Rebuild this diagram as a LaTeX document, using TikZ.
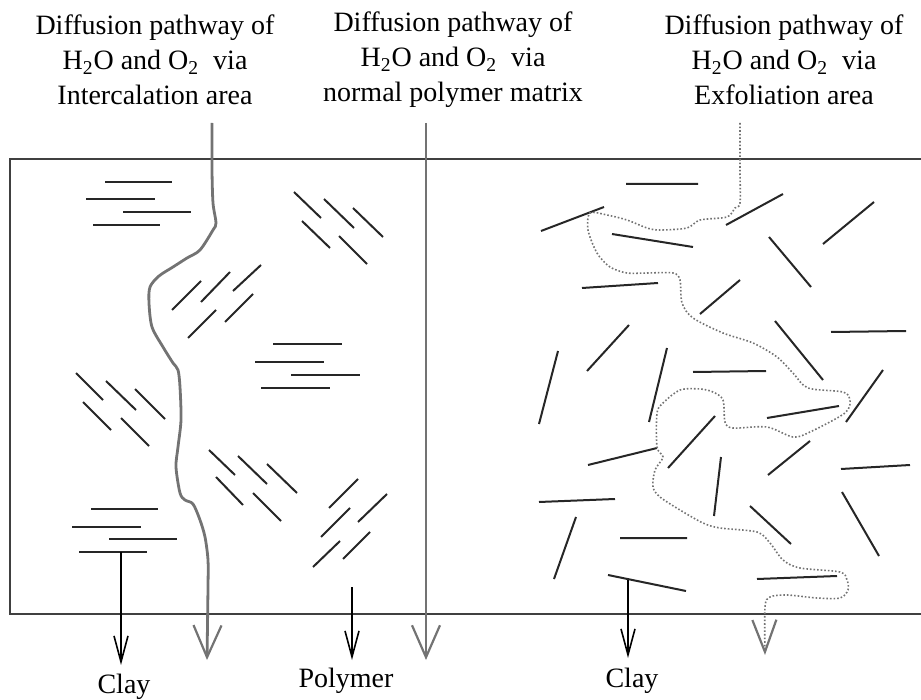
\documentclass[tikz,border=0pt]{standalone}
\usepackage{fontspec}
\setmainfont{Liberation Serif}
\usetikzlibrary{arrows.meta}

\begin{document}
\begin{tikzpicture}[x=0.5pt,y=-0.5pt,
    clay/.style={line width=1pt,black!85},
    wall/.style={line width=0.9pt,black!75},
    route/.style={line width=1.4pt,black!55,line join=round,
      -{Straight Barb[length=16pt,width=14pt,line width=1.1pt]}},
    fineroute/.style={line width=0.8pt,black!55,densely dotted,
      -{Straight Barb[length=16pt,width=12pt,line width=1.1pt]}},
    down/.style={line width=0.6pt,-{Straight Barb[length=13pt,width=7pt,line width=0.8pt]}},
    lab/.style={font=\fontsize{14}{17.5}\selectfont,align=center,inner sep=0pt}]
    \useasboundingbox (0,0) rectangle (921,700);

    % Titles
    \node[lab] (lblInter) at (155,60) {Diffusion pathway of\\
      H\textsubscript{2}O and O\textsubscript{2}\enspace via\\ Intercalation area};
    \node[lab] (lblMatrix) at (453,60) {Diffusion pathway of\\
      H\textsubscript{2}O and O\textsubscript{2}\enspace via\\ normal polymer matrix};
    \node[lab] (lblExfol) at (784,60) {Diffusion pathway of\\
      H\textsubscript{2}O and O\textsubscript{2}\enspace via\\ Exfoliation area};

    % Film
    \draw[wall] (921,159) -- (10,159) -- (10,614) -- (921,614);

    % Stacked clay, left part
    \draw[clay] (105,182) -- (172,182) (86,199) -- (155,199)
                (123,212) -- (191,212) (93,225) -- (160,225);
    \draw[clay] (294,192) -- (321,218) (324,199) -- (354,228) (353,208) -- (383,237)
                (302,221) -- (330,248) (339,236) -- (367,264);
    \draw[clay] (172,310) -- (201,281) (201,302) -- (230,272) (233,291) -- (261,265)
                (188,338) -- (216,310) (225,322) -- (253,294);
    \draw[clay] (273,344) -- (342,344) (255,362) -- (324,362)
                (291,375) -- (360,375) (261,388) -- (330,388);
    \draw[clay] (76,373) -- (103,400) (106,381) -- (136,410) (135,389) -- (165,419)
                (83,402) -- (111,430) (121,418) -- (149,446);
    \draw[clay] (209,450) -- (235,475) (238,456) -- (267,484) (267,464) -- (297,493)
                (216,477) -- (243,505) (253,493) -- (281,521);
    \draw[clay] (329,508) -- (358,479) (358,522) -- (387,494) (321,537) -- (350,508)
                (343,559) -- (370,532) (313,567) -- (340,541);
    \draw[clay] (91,509) -- (158,509) (72,527) -- (141,527)
                (109,539) -- (177,539) (79,552) -- (147,552);

    % Single clay sheets, right part
    \draw[clay] (626,184) -- (698,184) (541,231) -- (604,207) (612,234) -- (693,247)
                (726,225) -- (783,194) (823,244) -- (874,202) (769,237) -- (811,287)
                (582,288) -- (658,283) (700,314) -- (740,280) (831,332) -- (906,331)
                (775,321) -- (823,380) (587,371) -- (629,325) (539,424) -- (558,351)
                (649,422) -- (667,348) (693,372) -- (766,371) (846,422) -- (883,370)
                (767,418) -- (839,406) (668,468) -- (715,416) (768,475) -- (810,441)
                (841,469) -- (910,465) (714,516) -- (721,457) (750,506) -- (791,544)
                (842,492) -- (879,556) (757,579) -- (837,576) (588,465) -- (657,448)
                (539,502) -- (615,499) (554,579) -- (576,517) (620,538) -- (687,538)
                (608,575) -- (686,591);

    % Pathways
    \coordinate (interTop) at (212,123);
    \coordinate (interEnd) at (207,660);
    \coordinate (matrixTop) at (426,123);
    \coordinate (matrixEnd) at (426,660);
    \coordinate (exfolTop) at (740,123);
    \coordinate (exfolEnd) at (765,655);
    \draw[route] plot[smooth,tension=0.5] coordinates {(interTop) (212,170) (213,203)
      (216,223) (213,230) (200,250) (187,258) (173,267) (159,276) (150,287) (149,303)
      (152,327) (163,347) (173,363) (178,370) (180,387) (181,420) (178,447) (176,467)
      (180,493) (185,500) (193,504) (200,520) (205,537) (208,560) (208,587) (interEnd)};
    \draw[route] (matrixTop) -- (matrixEnd);
    \draw[fineroute] plot[smooth,tension=0.5] coordinates {(exfolTop) (740,170)
      (740,203) (735,208) (727,217) (700,220) (687,228) (660,230) (647,228) (627,220)
      (607,215) (590,213) (588,230) (597,253) (610,267) (627,273) (647,273) (673,273)
      (680,280) (682,303) (693,318) (723,333) (753,343) (777,357) (793,373) (808,388)
      (843,392) (850,400) (845,413) (810,432) (793,437) (767,427) (733,428) (725,422)
      (723,400) (713,392) (700,389) (680,390) (663,403) (657,413) (657,447) (663,457)
      (655,470) (653,487) (660,497) (680,510) (703,523) (720,528) (757,532) (770,543)
      (783,560) (800,568) (840,572) (847,580) (848,590) (840,598) (817,598) (787,595)
      (770,597) (765,607) (exfolEnd)};

    % Components
    \coordinate (clayAtop) at (121,552);
    \coordinate (clayAend) at (121,665);
    \coordinate (polyTop) at (352,587);
    \coordinate (polyEnd) at (352,660);
    \coordinate (clayBtop) at (628,580);
    \coordinate (clayBend) at (628,658);
    \draw[down] (clayAtop) -- (clayAend);
    \draw[down] (polyTop) -- (polyEnd);
    \draw[down] (clayBtop) -- (clayBend);
    \node[lab] (clayA) at (124,687) {Clay};
    \node[lab] (polymer) at (346,681) {Polymer};
    \node[lab] (clayB) at (632,681) {Clay};
\end{tikzpicture}
\end{document}
